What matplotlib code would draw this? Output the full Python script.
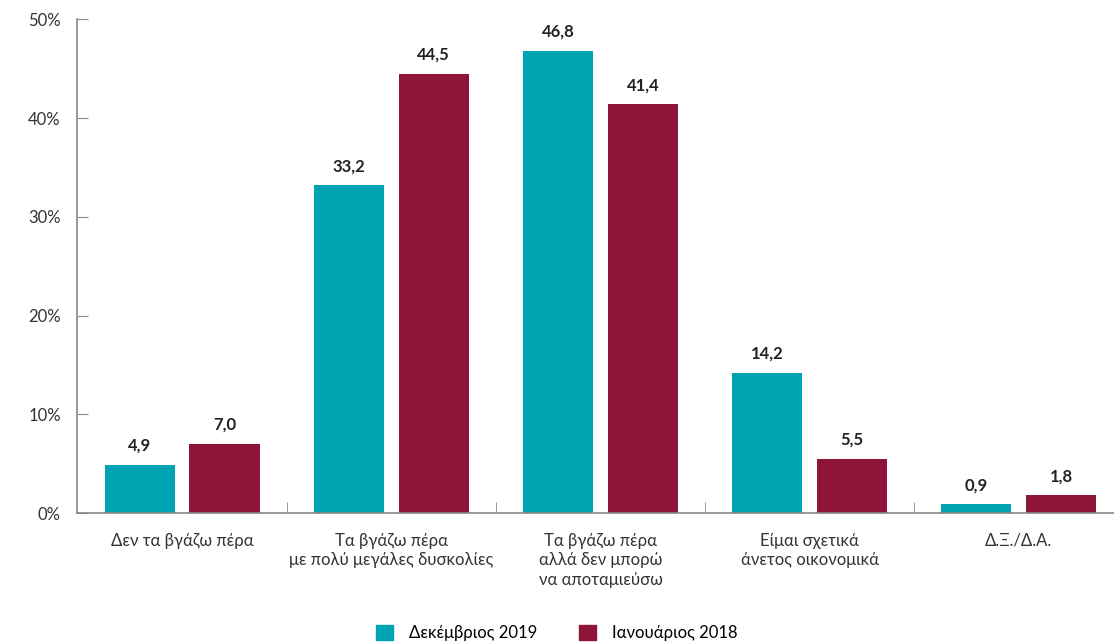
import matplotlib
matplotlib.use("Agg")
import matplotlib.pyplot as plt
from matplotlib.patches import Patch
import numpy as np

categories = ["Δεν τα βγάζω πέρα",
              "Τα βγάζω πέρα\nμε πολύ μεγάλες δυσκολίες",
              "Τα βγάζω πέρα\nαλλά δεν μπορώ\nνα αποταμιεύσω",
              "Είμαι σχετικά\nάνετος οικονομικά",
              "Δ.Ξ./Δ.Α."]
dec2019 = [4.9, 33.2, 46.8, 14.2, 0.9]
jan2018 = [7.0, 44.5, 41.4, 5.5, 1.8]
series_names = ["Δεκέμβριος 2019", "Ιανουάριος 2018"]
yticks = [0, 10, 20, 30, 40, 50]

plt.rcParams['font.family'] = ['Lato', 'DejaVu Sans']
teal = "#00A3B1"
red = "#8E1538"

fig = plt.figure(figsize=(11.14, 6.43), dpi=100)
ax = fig.add_axes([0.0695, 0.202, 0.939, 0.768])

x = np.arange(len(categories))
w = 0.335
off = 0.203
b1 = ax.bar(x - off, dec2019, w, color=teal)
b2 = ax.bar(x + off, jan2018, w, color=red)
for bars, vals in ((b1, dec2019), (b2, jan2018)):
    for r, v in zip(bars, vals):
        ax.annotate(f"{v:.1f}".replace(".", ","), (r.get_x() + r.get_width() / 2, v),
                    xytext=(0, 8), textcoords="offset points", ha="center", va="bottom",
                    fontsize=12, fontweight="bold", color="#222222")

ax.set_xlim(-0.5, 4.5)
ax.set_ylim(0, 50)
ax.set_yticks(yticks)
ax.set_yticklabels([f"{t}%" for t in yticks], fontsize=12, color="#333333")
ax.tick_params(axis="y", direction="in", length=8, color="#888888")
ax.yaxis.set_tick_params(pad=12)

ax.set_xticks(x)
ax.set_xticklabels(categories, fontsize=12, color="#333333", linespacing=1.3)
ax.tick_params(axis="x", length=0, pad=14)
ax.set_xticks(np.arange(0.5, 4.5, 1), minor=True)
ax.tick_params(axis="x", which="minor", direction="in", length=8, color="#888888")

for s in ("top", "right"):
    ax.spines[s].set_visible(False)
for s in ("left", "bottom"):
    ax.spines[s].set_color("#888888")
    ax.spines[s].set_linewidth(1.2)

handles = [Patch(color=teal), Patch(color=red)]
fig.legend(handles, series_names, loc="lower center", bbox_to_anchor=(0.5, -0.02), ncol=2,
           frameon=False, fontsize=12, handlelength=1.0, handleheight=1.0,
           columnspacing=2.5, handletextpad=1.0)

fig.savefig("out.png", dpi=100)
